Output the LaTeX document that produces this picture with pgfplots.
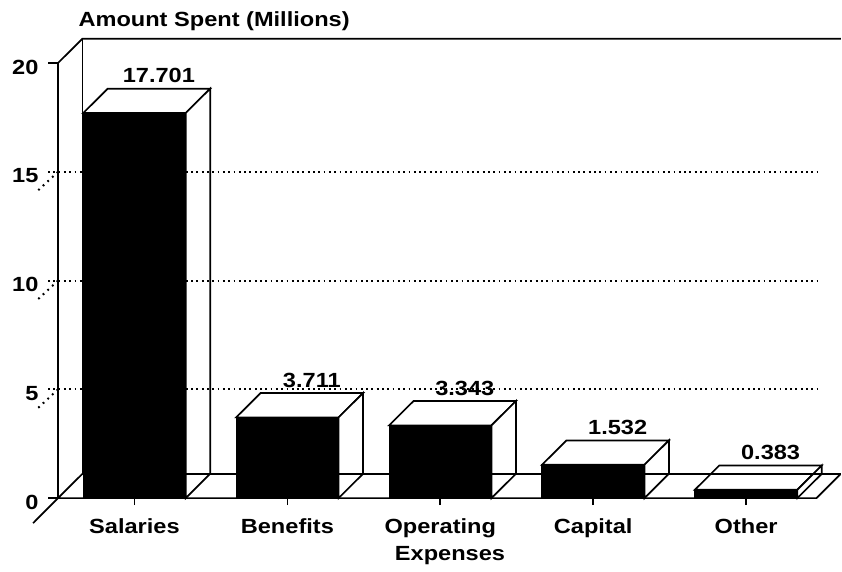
\documentclass[border=0pt]{standalone}
\usepackage{fontspec}
\setmainfont{Liberation Sans}[FakeStretch=1.15]
\usepackage{pgfplots}
\pgfplotsset{compat=1.18}
\usepackage{pgfplotstable}

\pgfplotstableread{
x y label
0 17.701 17.701
1 3.711 3.711
2 3.343 3.343
3 1.532 1.532
4 0.383 0.383
}\expdata

\newcommand{\lbl}{\fontsize{20.5}{24}\selectfont\bfseries}

\begin{document}
\begin{tikzpicture}
\begin{axis}[
  scale only axis, width=783.9pt, height=459.4pt,
  xmin=-0.5, xmax=4.627, ymin=0, ymax=21.12,
  clip=false,
  axis x line*=bottom, axis y line*=left,
  x axis line style={draw=none}, y axis line style={draw=none},
  xtick={0,1,2,3,4}, xticklabels={Salaries,Benefits,Operating,Capital,Other},
  ytick={0,5,10,15,20}, yticklabels={0,5,10,15,20},
  tick align=outside, major tick length=7pt,
  x tick style={black, line width=1.6pt},
  y tick style={draw=none},
  ticklabel style={font=\lbl},
  xticklabel style={yshift=-10pt},
  yticklabel style={xshift=-9pt, yshift=-4pt},
  xlabel={Expenses},
  xlabel style={font=\lbl, at={(axis description cs:0.5,0)}, anchor=north, yshift=-45pt},
  title={Amount Spent (Millions)},
  title style={font=\lbl, at={(axis description cs:0.0217,1)}, anchor=south west, yshift=-2pt},
  /pgf/number format/assume math mode=true,
]
\path (axis cs:-0.8793,-3.356) rectangle (axis cs:4.627,22.897);

% front faces
\addplot[ybar, bar width=0.67, fill=black, draw=black, line width=1pt] table[x=x,y=y] {\expdata};

% top and side faces
\addplot[fill=white, draw=black, line width=1.7pt] coordinates {(-0.335,17.701) (0.335,17.701) (0.495,18.821) (-0.175,18.821)} -- cycle;
\addplot[fill=white, draw=black, line width=1.7pt] coordinates {(0.335,0) (0.495,1.12) (0.495,18.821) (0.335,17.701)} -- cycle;
\addplot[fill=white, draw=black, line width=1.7pt] coordinates {(0.665,3.711) (1.335,3.711) (1.495,4.831) (0.825,4.831)} -- cycle;
\addplot[fill=white, draw=black, line width=1.7pt] coordinates {(1.335,0) (1.495,1.12) (1.495,4.831) (1.335,3.711)} -- cycle;
\addplot[fill=white, draw=black, line width=1.7pt] coordinates {(1.665,3.343) (2.335,3.343) (2.495,4.463) (1.825,4.463)} -- cycle;
\addplot[fill=white, draw=black, line width=1.7pt] coordinates {(2.335,0) (2.495,1.12) (2.495,4.463) (2.335,3.343)} -- cycle;
\addplot[fill=white, draw=black, line width=1.7pt] coordinates {(2.665,1.532) (3.335,1.532) (3.495,2.652) (2.825,2.652)} -- cycle;
\addplot[fill=white, draw=black, line width=1.7pt] coordinates {(3.335,0) (3.495,1.12) (3.495,2.652) (3.335,1.532)} -- cycle;
\addplot[fill=white, draw=black, line width=1.7pt] coordinates {(3.665,0.383) (4.335,0.383) (4.495,1.503) (3.825,1.503)} -- cycle;
\addplot[fill=white, draw=black, line width=1.7pt] coordinates {(4.335,0) (4.495,1.12) (4.495,1.503) (4.335,0.383)} -- cycle;

% floor
\addplot[black, line width=1.7pt, line join=round] coordinates {(-0.34,1.12) (-0.5,0) (4.46,0) (4.615,1.09)};
\addplot[black, line width=1.7pt] coordinates {(-0.34,1.12) (4.62,1.12)};
% front axis, back wall, top
\addplot[black, line width=1.7pt] coordinates {(-0.565,20) (-0.5,20) (-0.5,0) (-0.565,0)};
\addplot[black, line width=1.7pt] coordinates {(-0.5,20) (-0.34,21.12) (4.62,21.12)};
\addplot[black, line width=1.7pt] coordinates {(-0.34,1.12) (-0.34,21.12)};
\addplot[black, line width=1.7pt] coordinates {(-0.5,0) (-0.663,-1.15)};

% dotted gridlines and slanted ticks
\addplot[black, line width=2pt, dash pattern=on 1.8pt off 3.5pt] coordinates {(-0.565,5) (4.48,5)};
\addplot[black, line width=2pt, dash pattern=on 1.8pt off 3.5pt] coordinates {(-0.565,10) (4.48,10)};
\addplot[black, line width=2pt, dash pattern=on 1.8pt off 3.5pt] coordinates {(-0.565,15) (4.48,15)};
\addplot[black, line width=2pt, dash pattern=on 1.8pt off 4.5pt] coordinates {(-0.5,5) (-0.64,4.08)};
\addplot[black, line width=2pt, dash pattern=on 1.8pt off 4.5pt] coordinates {(-0.5,10) (-0.64,9.08)};
\addplot[black, line width=2pt, dash pattern=on 1.8pt off 4.5pt] coordinates {(-0.5,15) (-0.64,14.08)};

% value labels
\addplot[draw=none, mark=none, nodes near coords, point meta=explicit symbolic,
  nodes near coords style={font=\lbl, anchor=south, yshift=2pt}]
  table[x expr=\thisrow{x}+0.16, y expr=\thisrow{y}+1.12, meta=label] {\expdata};
\end{axis}
\end{tikzpicture}
\end{document}
